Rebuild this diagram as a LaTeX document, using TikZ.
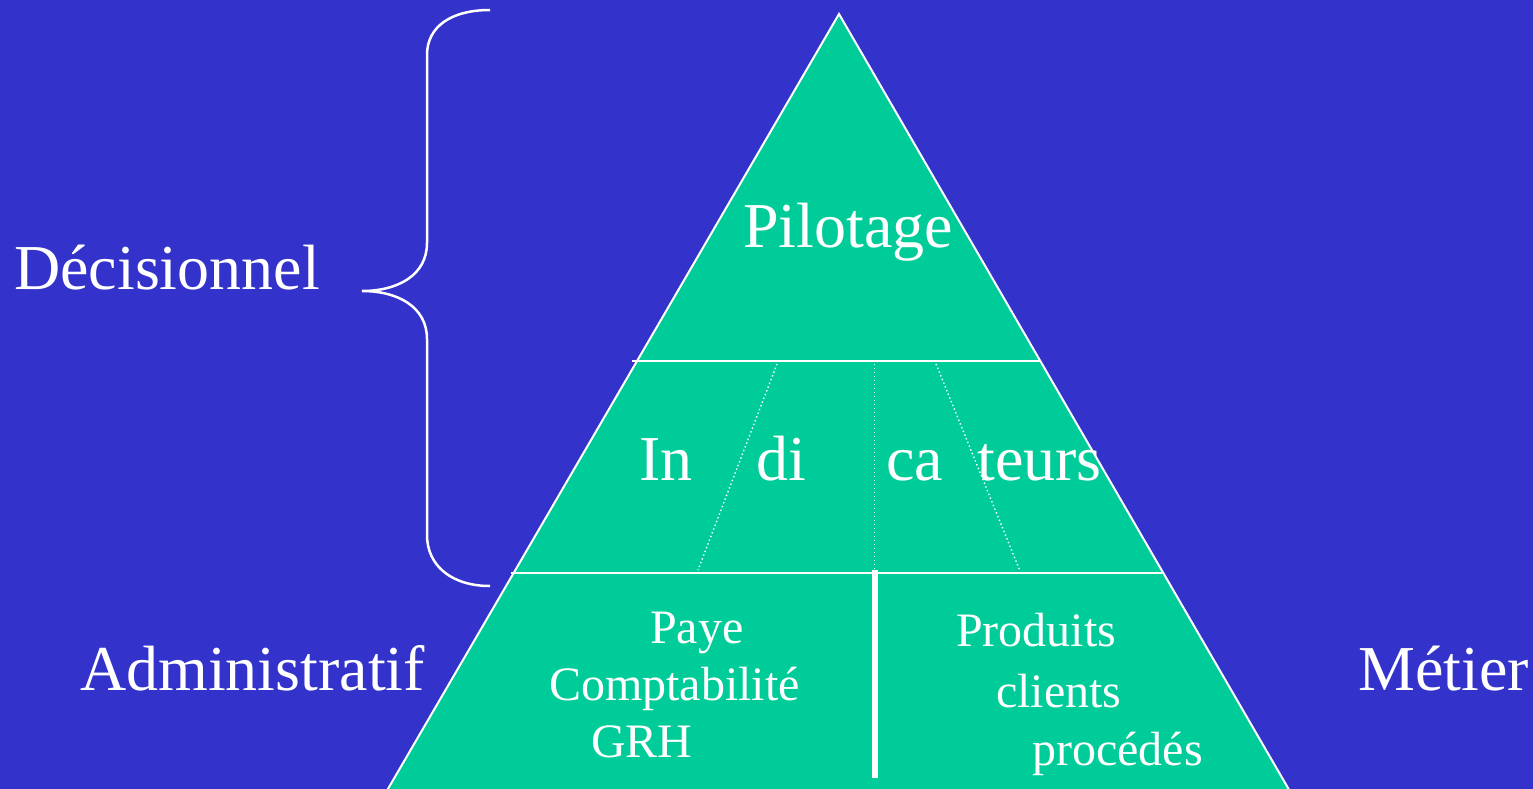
\documentclass[tikz,border=0pt]{standalone}
\usepackage{fontspec}
\setmainfont{Liberation Serif}
\definecolor{bgblue}{HTML}{3333CC}
\definecolor{pyrgreen}{HTML}{00CC99}
\tikzset{
  bigtxt/.style={text=white, inner sep=0pt, anchor=base west, font=\fontsize{64}{64}\selectfont},
  smalltxt/.style={text=white, inner sep=0pt, anchor=base west, font=\fontsize{48}{48}\selectfont},
  thinline/.style={draw=white, line width=2pt},
  dotline/.style={draw=white, line width=1.4pt, dash pattern=on 1.4pt off 2.6pt},
}
\begin{document}
\begin{tikzpicture}[x=1pt, y=-1pt]
  % page and background
  \useasboundingbox (0,0) rectangle (1533,789);
  \fill[bgblue] (0,0) rectangle (1533,789);
  \begin{scope}
    \clip (0,0) rectangle (1533,789);
    % pyramid (base runs below the page edge)
    \coordinate (apex) at (839,14);
    \coordinate (bl) at (381.5,800);
    \coordinate (br) at (1295,800);
    \filldraw[fill=pyrgreen, draw=white, line width=2pt, line join=miter] (apex) -- (bl) -- (br) -- cycle;
  \end{scope}
  % level separators
  \coordinate (s1l) at (632,361);
  \coordinate (s1r) at (1041,361);
  \coordinate (s2l) at (511,573);
  \coordinate (s2r) at (1162,573);
  \draw[thinline] (s1l) -- (s1r);
  \draw[thinline] (s2l) -- (s2r);
  % dotted dividers of the middle band
  \coordinate (d1a) at (777,364);  \coordinate (d1b) at (698,570);
  \coordinate (d2a) at (874.5,364); \coordinate (d2b) at (874.5,571);
  \coordinate (d3a) at (936,364);  \coordinate (d3b) at (1020,571);
  \draw[dotline] (d1a) -- (d1b);
  \draw[dotline] (d2a) -- (d2b);
  \draw[dotline] (d3a) -- (d3b);
  % thick divider of the base
  \coordinate (v1) at (874.5,570);
  \coordinate (v2) at (874.5,778);
  \draw[draw=white, line width=6pt] (v1) -- (v2);
  % brace
  \coordinate (btop) at (490,10);
  \coordinate (btip) at (362,291);
  \coordinate (bbot) at (490,586);
  \draw[white, line width=2.5pt]
    (btop) .. controls (452,10) and (427,26) .. (427,55)
    -- (427,243) .. controls (427,275) and (398,291) .. (btip)
    .. controls (398,291) and (427,307) .. (427,339)
    -- (427,535) .. controls (427,566) and (452,586) .. (bbot);
  % labels
  \node[bigtxt] (pil) at (743,247) {Pilotage};
  \node[bigtxt] (ind1) at (639,480) {In};
  \node[bigtxt] (ind2) at (756,480) {di};
  \node[bigtxt] (ind3) at (886,480) {ca};
  \node[bigtxt] (ind4) at (977,480) {teurs};
  \node[bigtxt] (dec) at (14,289) {Décisionnel};
  \node[bigtxt] (adm) at (80,690) {Administratif};
  \node[bigtxt] (met) at (1358,690) {Métier};
  \node[smalltxt] (paye) at (650,643) {Paye};
  \node[smalltxt] (compta) at (549,700) {Comptabilité};
  \node[smalltxt] (grh) at (591,757) {GRH};
  \node[smalltxt] (prod) at (956,646) {Produits};
  \node[smalltxt] (cli) at (996,707) {clients};
  \node[smalltxt] (proc) at (1032,765) {procédés};
\end{tikzpicture}
\end{document}
